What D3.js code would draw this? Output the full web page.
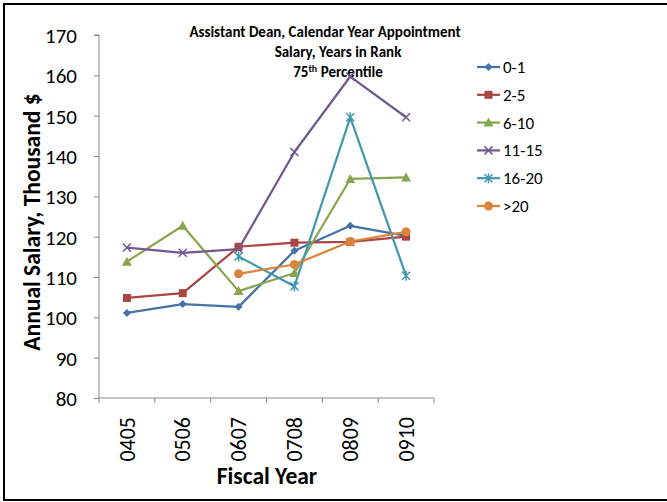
<!DOCTYPE html>
<html>
<head>
<meta charset="utf-8">
<script src="https://cdn.jsdelivr.net/npm/d3@7"></script>
<style>
  body { margin: 0; background: #fff; }
  text { font-family: Carlito, Lato, "Open Sans", sans-serif; }
</style>
</head>
<body>
<svg id="chart" width="667" height="502"></svg>
<script>
// fiscal years on the x axis
var years = ["0405", "0506", "0607", "0708", "0809", "0910"];
var yTicks = [80, 90, 100, 110, 120, 130, 140, 150, 160, 170];

// 75th percentile salary (thousand $) by years in rank
var s0_1   = [101.1, 103.3, 102.6, 116.5, 122.7, 120.2];
var s2_5   = [104.8, 106.0, 117.5, 118.5, 118.7, 120.0];
var s6_10  = [113.8, 122.7, 106.5, 111.0, 134.3, 134.7];
var s11_15 = [117.3, 116.0, 116.9, 141.0, 159.7, 149.6];
var s16_20 = [null, null, 115.1, 107.7, 149.6, 110.3];
var sOver20 = [null, null, 110.8, 113.1, 118.8, 121.2];

var series = [
  { name: "0-1",   values: s0_1,   color: "#4572a7", marker: "diamond" },
  { name: "2-5",   values: s2_5,   color: "#aa4643", marker: "square" },
  { name: "6-10",  values: s6_10,  color: "#89a54e", marker: "triangle" },
  { name: "11-15", values: s11_15, color: "#71588f", marker: "x" },
  { name: "16-20", values: s16_20, color: "#4198af", marker: "star" },
  { name: ">20",   values: sOver20, color: "#db843d", marker: "circle" }
];

var svg = d3.select("#chart");

// outer frame
svg.append("rect")
  .attr("x", 4).attr("y", 4).attr("width", 670).attr("height", 496)
  .attr("fill", "none").attr("stroke", "#000").attr("stroke-width", 2);

var plotL = 99, plotR = 434, plotT = 35, plotB = 398;

var x = d3.scaleBand().domain(years).range([plotL, plotR]);
var y = d3.scaleLinear().domain([80, 170]).range([plotB, plotT]);

// y axis
var yAxis = svg.append("g")
  .attr("transform", "translate(" + plotL + ",0)")
  .call(d3.axisLeft(y).tickValues(yTicks).tickSize(5).tickPadding(17));
yAxis.select(".domain").attr("stroke", "#868686").attr("d", "M-5," + plotT + "H0V" + plotB);
yAxis.selectAll(".tick line").attr("stroke", "#868686");
yAxis.selectAll("text").attr("font-size", 21).attr("fill", "#000").attr("dy", "0.35em");

// x axis
var xAxis = svg.append("g")
  .attr("transform", "translate(0," + plotB + ")");
xAxis.append("line")
  .attr("x1", plotL).attr("x2", plotR).attr("stroke", "#868686");
var edges = years.map(function (d) { return x(d); }).concat([plotR]);
xAxis.selectAll(".tk").data(edges).enter().append("line")
  .attr("x1", function (d) { return d; }).attr("x2", function (d) { return d; })
  .attr("y1", 0).attr("y2", 5).attr("stroke", "#868686");
xAxis.selectAll(".lbl").data(years).enter().append("text")
  .attr("transform", function (d) {
    return "translate(" + (x(d) + x.bandwidth() / 2) + ",19) rotate(-90)";
  })
  .attr("text-anchor", "end").attr("dy", "0.35em")
  .attr("font-size", 22).attr("fill", "#000")
  .text(function (d) { return d; });

// axis titles
svg.append("text")
  .attr("transform", "translate(40,222) rotate(-90)")
  .attr("text-anchor", "middle").attr("font-size", 23.5).attr("font-weight", "bold")
  .text("Annual Salary, Thousand $");
svg.append("text")
  .attr("x", 267).attr("y", 484)
  .attr("text-anchor", "middle").attr("font-size", 23.5).attr("font-weight", "bold")
  .text("Fiscal Year");

// chart title
var title = svg.append("g").attr("font-size", 15).attr("font-weight", "bold").attr("text-anchor", "middle");
title.append("text").attr("x", 325).attr("y", 37).text("Assistant Dean, Calendar Year Appointment");
title.append("text").attr("x", 338).attr("y", 57).text("Salary, Years in Rank");
var t3 = title.append("text").attr("x", 338).attr("y", 77);
t3.append("tspan").text("75");
t3.append("tspan").attr("font-size", 10).attr("dy", -5).text("th");
t3.append("tspan").attr("dy", 5).text(" Percentile");

function cx(i) { return x(years[i]) + x.bandwidth() / 2; }

function drawMarker(g, type, color) {
  if (type === "diamond") {
    g.append("path").attr("d", "M0,-4L4,0L0,4L-4,0Z").attr("fill", color);
  } else if (type === "square") {
    g.append("rect").attr("x", -4).attr("y", -4).attr("width", 8).attr("height", 8).attr("fill", color);
  } else if (type === "triangle") {
    g.append("path").attr("d", "M0,-5L5,4L-5,4Z").attr("fill", color);
  } else if (type === "x") {
    g.append("path").attr("d", "M-4,-4L4,4M-4,4L4,-4").attr("stroke", color).attr("stroke-width", 1.5);
  } else if (type === "star") {
    g.append("path").attr("d", "M-4,-4L4,4M-4,4L4,-4M0,-5V5").attr("stroke", color).attr("stroke-width", 1.5);
  } else if (type === "circle") {
    g.append("circle").attr("r", 4.5).attr("fill", color);
  }
}

var line = d3.line()
  .defined(function (d) { return d != null; })
  .x(function (d, i) { return cx(i); })
  .y(function (d) { return y(d); });

series.forEach(function (s) {
  svg.append("path")
    .datum(s.values)
    .attr("fill", "none")
    .attr("stroke", s.color)
    .attr("stroke-width", 2.25)
    .attr("stroke-linejoin", "round")
    .attr("d", line);
});
series.forEach(function (s) {
  s.values.forEach(function (v, i) {
    if (v == null) return;
    var g = svg.append("g").attr("transform", "translate(" + cx(i) + "," + y(v) + ")");
    drawMarker(g, s.marker, s.color);
  });
});

// legend
var legend = svg.append("g").attr("transform", "translate(477,67)");
series.forEach(function (s, i) {
  var g = legend.append("g").attr("transform", "translate(0," + (i * 27.8) + ")");
  g.append("line").attr("x1", 0).attr("x2", 23).attr("stroke", s.color).attr("stroke-width", 2.25);
  var m = g.append("g").attr("transform", "translate(11.5,0)");
  drawMarker(m, s.marker, s.color);
  g.append("text").attr("x", 26).attr("dy", "0.35em").attr("font-size", 17).text(s.name);
});
</script>
</body>
</html>
